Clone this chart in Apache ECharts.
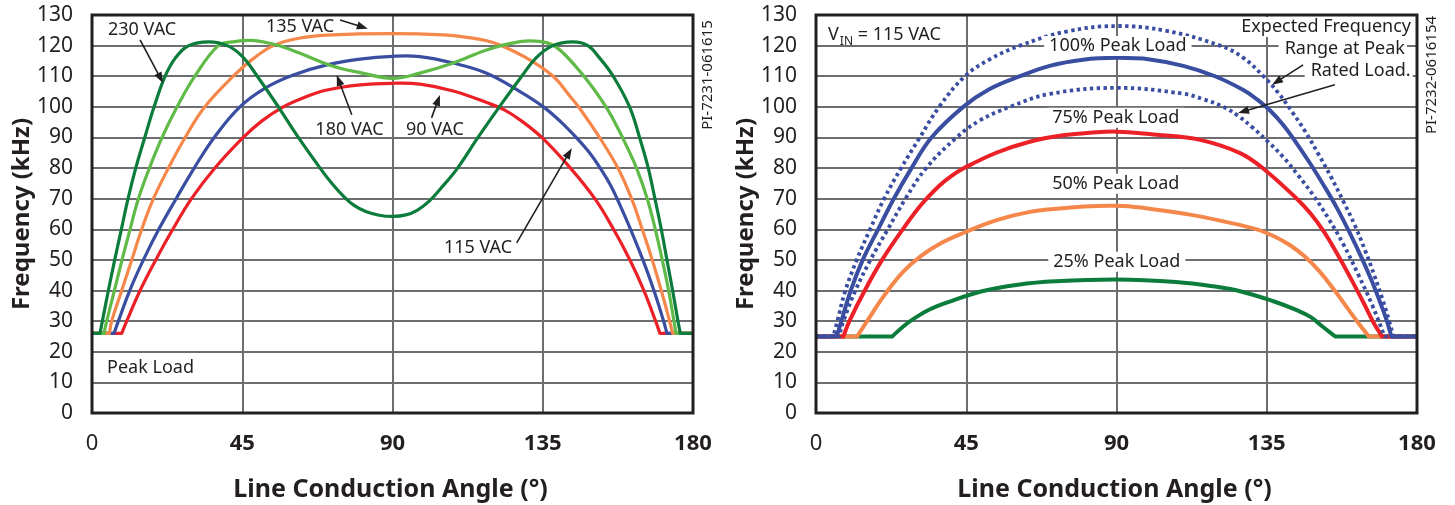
<!DOCTYPE html>
<html>
<head>
<meta charset="utf-8">
<script src="https://cdn.jsdelivr.net/npm/echarts@6/dist/echarts.min.js"></script>
<style>
html,body{margin:0;padding:0;background:#fff;}
#c{width:1455px;height:505px;}
</style>
</head>
<body>
<div id="c"></div>
<script>
// ---------- axis ticks ----------
const angleTicks = [0, 45, 90, 135, 180];
const freqTicks = [0, 10, 20, 30, 40, 50, 60, 70, 80, 90, 100, 110, 120, 130];

// ---------- left chart: peak load at different line voltages  [angle deg, kHz] ----------
const vac90 = [[0,26],[8.9,26],[10.4,30],[14.4,40],[19.1,50],[24.2,60],[29.8,70],[36.8,80],[45.3,90],[51,95.5],[57.3,100],[63,102.8],[70,105.4],[80.3,107.2],[90.3,107.7],[98.2,107.4],[108.2,105.2],[118.2,101.4],[123.5,99],[128.5,95.5],[134.7,90],[143.3,80],[150.6,70],[156.2,60],[161.1,50],[165.3,40],[168.8,30],[170.1,26],[180,26]];
const vac115 = [[0,26],[6.6,26],[7.9,30],[11.3,40],[15.4,50],[20,60],[25.2,70],[30.6,80],[36.6,90],[44.3,100],[52,106.2],[60.3,110.4],[70.3,113.7],[80.3,115.6],[90,116.5],[98.2,116.4],[108.2,114.3],[118.2,111],[128.2,105],[135.2,100],[140.5,95],[145,90],[149,85],[152.5,79.5],[155.5,74],[158.3,67.5],[161.3,60],[165,50],[168.3,40],[171.2,30],[172.2,26],[180,26]];
const vac135 = [[0,26],[5.2,26],[5.9,30],[8.9,40],[11.9,50],[14.9,60],[18.4,70],[22.9,80],[27.9,90],[33.8,100],[42.3,110],[48,115.5],[54.3,120],[62,122.4],[72,123.5],[90,123.9],[105,123.5],[113,122.6],[118.2,121.6],[122.2,120.2],[131.2,115.3],[138.2,109.9],[143.2,103.4],[146.2,99.3],[152,90],[157.5,80],[161.6,70],[164.8,60],[167.8,50],[170.5,40],[173,30],[173.9,26],[180,26]];
const vac180 = [[0,26],[3.6,26],[4.4,30],[6.7,40],[9,50],[11.4,60],[13.9,70],[17.2,80],[21,90],[25.5,100],[30.8,110],[37.8,120],[42,121.2],[47.8,121.7],[55.3,120.2],[62.3,117.5],[68.3,114.8],[74.3,112.6],[80.3,111.2],[90,109.3],[98.2,111],[108.2,114.3],[118.2,118.6],[128.2,121.3],[134,121.4],[138,120.2],[141.2,117.5],[146.2,111.5],[150.5,105.5],[154.5,99],[157.5,93],[160.2,87],[163.1,80],[166.3,70],[168.7,60],[170.8,50],[172.7,40],[174.3,30],[174.9,26],[180,26]];
const vac230 = [[0,26],[2.4,26],[3.1,30],[4.9,40],[6.8,50],[8.8,60],[10.8,70],[13.1,80],[15.8,90],[18.6,100],[21.9,110],[25,116],[29,120],[35,121.2],[40.5,120],[45,116.5],[49.5,110],[55.8,100],[61.8,90],[68.3,80],[72,74.8],[75.5,70.6],[78.5,67.8],[82,65.8],[86,64.6],[90,64.2],[94,64.7],[97.5,66.3],[101,69.2],[104.5,73.4],[109.5,80],[115.6,90],[122,100],[128.7,110],[133,116],[138,120],[144,121.2],[148.5,120],[152,116],[156.1,110],[161,100],[164,90],[166.6,80],[168.6,70],[170.5,60],[172.2,50],[173.9,40],[175.5,30],[176.2,26],[180,26]];

// ---------- right chart: VIN = 115 VAC at different loads ----------
const load100 = [[0,25],[6.2,25],[7.6,30],[10.4,40],[14,50],[18.6,60],[23.3,70],[28.6,80],[34.6,90],[44.1,100],[52,105.8],[61.1,110],[70,113.4],[80,115.4],[90,116],[100,115.5],[110,113.4],[119.5,110],[128,105.5],[132,102.5],[136,98.8],[140,94],[144,88],[148,81.5],[152,74.5],[156,67],[160,58.5],[163.5,50.5],[166.5,43],[169,36],[171,30],[172.3,25],[180,25]];
const rangeHigh = [[0,25],[5.2,25],[6.4,30],[8.8,40],[12.2,50],[16.2,60],[20.4,70],[25.5,80],[31.1,90],[36.9,100],[44.6,110],[52,115.5],[61.1,120],[75,124.6],[90,126.4],[105,124.8],[121,120],[128,116],[134,110],[138.5,104.5],[142.5,98.5],[146.5,92],[150.5,84.5],[154.3,77],[158,69],[161.5,61],[164.5,53],[167.2,45],[169.7,37],[171.8,29.5],[172.9,25],[180,25]];
const rangeLow = [[0,25],[6.9,25],[8.2,30],[11.8,40],[16.3,50],[21.5,60],[26.8,70],[33,80],[42.1,90],[49,95.5],[58.1,100],[70,104.2],[90,106.2],[110,104.3],[116,102.5],[122,100],[126.5,97],[131,93],[135.5,88.5],[140,83.5],[144.5,77.5],[149,71],[153.5,63.5],[158,55],[162.5,45],[166.5,35.5],[170.3,25],[180,25]];
const load75 = [[0,25],[8.2,25],[10,30],[14.6,40],[19.8,50],[26,60],[31.5,68],[37,74.3],[40.5,77.4],[44,79.8],[54,85],[64,88.6],[74,90.7],[82,91.5],[90,91.9],[102,90.9],[115,89.2],[127,84.9],[134,79.8],[144,70],[148,65.3],[152,59.4],[156,52.2],[160,44.3],[164,36],[167,29.5],[169.5,25],[180,25]];
const load50 = [[0,25],[12.3,25],[15.3,30],[20.5,38.5],[26,46],[31.5,51.3],[37.5,55.5],[44.1,58.8],[54.1,63],[64.1,65.7],[74,66.9],[82,67.5],[92,67.6],[102,66.4],[112,64.8],[122,62.6],[132,60],[137,57.8],[142,54.8],[146.5,51],[151,46],[155,40.5],[159,34.5],[162.7,29],[165.6,25],[180,25]];
const load25 = [[0,25],[22.8,25],[26.5,28.6],[30,31.3],[34,33.8],[39.6,36.2],[49.4,39.7],[60.5,41.9],[71.6,43],[90,43.6],[107.8,42.8],[118.9,41.4],[127.3,39.7],[137,36.5],[144,33.6],[148.2,31.3],[151.5,28.4],[155.5,25],[180,25]];

// ---------- annotation arrows [x1, y1, x2, y2] (data coordinates, arrowhead at the 2nd point) ----------
const arrowsLeft = [[14.4,121.9,21.3,107.8],[74.3,128.4,82.6,125.5],[77.8,97.4,73.3,110.4],[101.7,96.4,104.2,103.9],[127.2,55.6,143.7,86.5]];
const arrowsRight = [[145.9,113.7,136.6,107.2],[155.4,107.2,126.4,98]];

// ---------- styling ----------
const FONT = 'Noto Sans';
const INK = '#231f20';
const GRIDC = '#6d6e71';
const COL = {dkgreen:'#0b7c3b', ltgreen:'#5fba47', orange:'#f5874a', blue:'#3a4ea1', red:'#ec2027'};

const chart = echarts.init(document.getElementById('c'), null, {renderer:'canvas'});

// repeat the points where a curve leaves / meets its flat floor, so the
// spline keeps those corners sharp instead of rounding them
function withCorners(data){
  const out = [];
  for (let i = 0; i < data.length; i++){
    const p = data[i];
    out.push(p);
    if (i > 0 && i < data.length - 1){
      const flatPrev = data[i-1][1] === p[1], flatNext = data[i+1][1] === p[1];
      if (flatPrev !== flatNext) out.push(p);
    }
  }
  return out;
}

function xAx(i){
  return {type:'value', gridIndex:i, min:angleTicks[0], max:angleTicks[angleTicks.length-1],
    interval:angleTicks[1]-angleTicks[0],
    axisLine:{show:false}, axisTick:{show:false},
    splitLine:{show:true, lineStyle:{color:GRIDC, width:2}},
    axisLabel:{margin:20, formatter:v => v===0 ? '{n|0}' : '{b|'+v+'}',
      rich:{n:{fontFamily:FONT, fontSize:22, color:INK}, b:{fontFamily:FONT, fontSize:22, fontWeight:'bold', color:INK}}}};
}
function yAx(i){
  return {type:'value', gridIndex:i, min:freqTicks[0], max:freqTicks[freqTicks.length-1],
    interval:freqTicks[1]-freqTicks[0],
    axisLine:{show:false}, axisTick:{show:false},
    splitLine:{show:true, lineStyle:{color:GRIDC, width:2}},
    axisLabel:{margin:19, fontFamily:FONT, fontSize:21, color:INK}};
}
// one smooth curve per series, drawn through the axis scales (api.coord)
function curve(data, color, gi, width, dash){
  const pts = withCorners(data);
  return {type:'custom', xAxisIndex:gi, yAxisIndex:gi, data:pts, encode:{x:0, y:1},
    silent:true, animation:false, clip:true,
    renderItem:(params, api) => {
      if (params.dataIndex !== 0) return null;
      const points = pts.map(p => api.coord(p));
      return {type:'polyline', shape:{points:points, smooth:0.4},
        style:{stroke:color, lineWidth:width, fill:null, lineDash:dash || null, lineCap:'butt', lineJoin:'round'}};
    }};
}
function arrows(list, gi){
  return {type:'custom', xAxisIndex:gi, yAxisIndex:gi, data:list, silent:true, animation:false, z:5,
    renderItem:(params, api) => {
      const a = api.coord([api.value(0), api.value(1)]);
      const b = api.coord([api.value(2), api.value(3)]);
      const dx = b[0]-a[0], dy = b[1]-a[1], L = Math.sqrt(dx*dx+dy*dy);
      const ux = dx/L, uy = dy/L, hl = 11, hw = 4;
      const bx = b[0]-ux*hl, by = b[1]-uy*hl;
      return {type:'group', children:[
        {type:'line', shape:{x1:a[0], y1:a[1], x2:bx+ux*2, y2:by+uy*2}, style:{stroke:INK, lineWidth:1.6}},
        {type:'polygon', shape:{points:[[b[0],b[1]],[bx-uy*hw, by+ux*hw],[bx+uy*hw, by-ux*hw]]}, style:{fill:INK}}
      ]};
    }};
}

chart.setOption({
  animation:false,
  grid:[
    {left:92, top:15, width:601, height:398},
    {left:816, top:15, width:601, height:398}
  ],
  xAxis:[xAx(0), xAx(1)],
  yAxis:[yAx(0), yAx(1)],
  series:[
    curve(vac90, COL.red, 0, 3.2),
    curve(vac115, COL.blue, 0, 3.2),
    curve(vac135, COL.orange, 0, 3.2),
    curve(vac180, COL.ltgreen, 0, 3.2),
    curve(vac230, COL.dkgreen, 0, 3.2),
    arrows(arrowsLeft, 0),
    curve(load25, COL.dkgreen, 1, 4),
    curve(load50, COL.orange, 1, 4),
    curve(load75, COL.red, 1, 4),
    curve(rangeLow, COL.blue, 1, 3.8, [3.4,3.4]),
    curve(rangeHigh, COL.blue, 1, 3.8, [3.4,3.4]),
    curve(load100, COL.blue, 1, 4),
    arrows(arrowsRight, 1)
  ]
});

// ---------- text annotations (placed in data coordinates) ----------
function P(gi, pt){ return chart.convertToPixel({gridIndex:gi}, pt); }
function txt(gi, pt, text, opts){
  const p = P(gi, pt);
  opts = opts || {};
  const st = {text:text, fill:INK, font:(opts.weight||'normal')+' '+(opts.size||18)+'px "'+FONT+'"',
    align:opts.align||'center', verticalAlign:'middle'};
  if (opts.bg){ st.backgroundColor = '#fff'; st.padding = opts.pad || [1,5]; }
  if (opts.rich){ st.rich = opts.rich; delete st.font; }
  return {type:'text', x:p[0], y:p[1], z:50, silent:true, style:st};
}
const g = [];
g.push(txt(0,[15,125.1],'230 VAC'));
g.push(txt(0,[62.3,126.1],'135 VAC'));
g.push(txt(0,[77.1,92.5],'180 VAC'));
g.push(txt(0,[102.7,92.5],'90 VAC'));
g.push(txt(0,[115.6,54],'115 VAC'));
g.push(txt(0,[4.5,14.8],'Peak Load',{align:'left'}));
g.push(txt(1,[3.6,123.4],'{v|V}{s|IN}{v| = 115 VAC}',{align:'left', rich:{
  v:{fontFamily:FONT, fontSize:18, color:INK, lineHeight:24, verticalAlign:'middle'},
  s:{fontFamily:FONT, fontSize:12, color:INK, lineHeight:24, verticalAlign:'bottom', padding:[0,0,0,1]}}}));
g.push(txt(1,[90.4,119.9],'100% Peak Load',{bg:true}));
g.push(txt(1,[89.8,96.4],'75% Peak Load',{bg:true}));
g.push(txt(1,[89.8,74.9],'50% Peak Load',{bg:true}));
g.push(txt(1,[90.1,49.4],'25% Peak Load',{bg:true}));
g.push(txt(1,[178.8,126.1],'Expected Frequency',{align:'right', bg:true, pad:[1,2,1,6]}));
g.push(txt(1,[177,119],'Range at Peak',{align:'right', bg:true, pad:[1,2,1,6]}));
g.push(txt(1,[178.7,111.7],'Rated Load.',{align:'right', bg:true, pad:[1,2,1,6]}));

[0,1].forEach(gi => {
  const tl = P(gi,[angleTicks[0], freqTicks[freqTicks.length-1]]);
  const br = P(gi,[angleTicks[angleTicks.length-1], freqTicks[0]]);
  const cx = (tl[0]+br[0])/2, cy = (tl[1]+br[1])/2;
  g.push({type:'rect', z:100, silent:true, shape:{x:tl[0], y:tl[1], width:br[0]-tl[0], height:br[1]-tl[1]},
    style:{fill:'none', stroke:INK, lineWidth:3}});
  g.push({type:'text', z:50, silent:true, x:tl[0]-70, y:cy, rotation:Math.PI/2,
    style:{text:'Frequency (kHz)', fill:INK, font:'bold 24px "'+FONT+'"', align:'center', verticalAlign:'middle'}});
  g.push({type:'text', z:50, silent:true, x:cx-2, y:br[1]+77,
    style:{text:'Line Conduction Angle (°)', fill:INK, font:'bold 25px "'+FONT+'"', align:'center', verticalAlign:'middle'}});
  g.push({type:'text', z:50, silent:true, x:br[0]+15, y:tl[1]+60, rotation:Math.PI/2,
    style:{text: gi===0 ? 'PI-7231-061615' : 'PI-7232-0616154', fill:INK, font:'15px "'+FONT+'"', align:'center', verticalAlign:'middle'}});
});
chart.setOption({graphic:g});
</script>
</body>
</html>
